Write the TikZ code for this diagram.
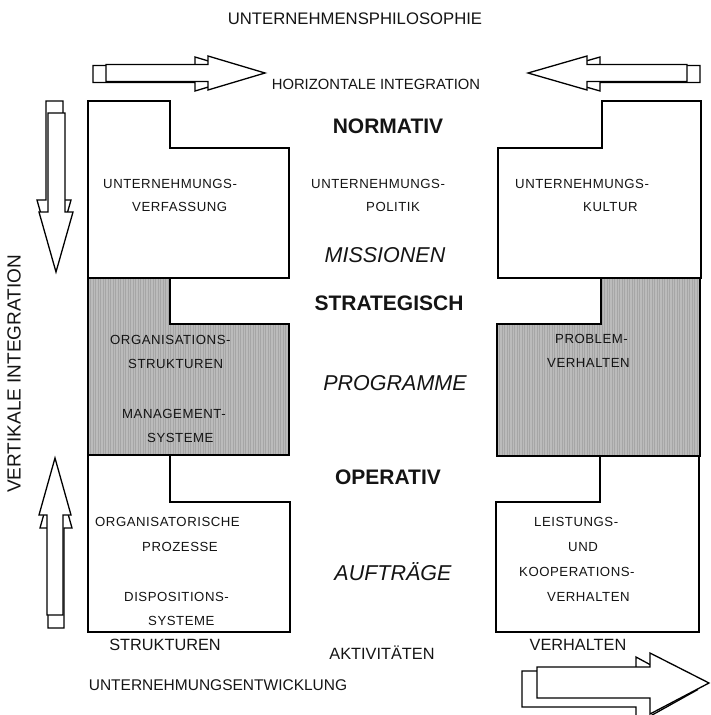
\documentclass[tikz,border=0pt]{standalone}
\usepackage{fontspec}
\setmainfont{Liberation Sans}
\newfontfamily\spacedsans[LetterSpace=4]{Liberation Sans}
\definecolor{shadegray}{HTML}{BBBBBB}
\definecolor{stripe}{HTML}{A6A6A6}
\definecolor{txt}{HTML}{141414}
\begin{document}
\begin{tikzpicture}[x=1pt,y=-1pt,
  outline/.style={draw=black, line width=1.4pt, line join=miter},
  plainblock/.style={outline, fill=white},
  shadedblock/.style={outline, fill=shadegray},
  arrowface/.style={draw=black, line width=1.3pt, fill=white, line join=miter},
  lbl/.style={inner sep=0pt, text=txt},
  small/.style={lbl, anchor=base west, font=\spacedsans\fontsize{13.2}{15}\selectfont},
  level/.style={lbl, anchor=base, font=\fontsize{21}{25}\selectfont\bfseries},
  stage/.style={lbl, anchor=base, font=\fontsize{21.5}{25}\selectfont\itshape},
  caption/.style={lbl, anchor=base, font=\fontsize{16.3}{19}\selectfont},
  heading/.style={lbl, anchor=base, font=\fontsize{16.7}{20}\selectfont}
]
\useasboundingbox (0,0) rectangle (710,715);

% ---------- left column: structures ----------
\path[plainblock] (88,101) -- (170,101) -- (170,148) -- (289,148) -- (289,278) -- (88,278) -- cycle;
\path[shadedblock] (88,278) -- (170,278) -- (170,324) -- (289,324) -- (289,455) -- (88,455) -- cycle;
\begin{scope}
  \clip (88,278) -- (170,278) -- (170,324) -- (289,324) -- (289,455) -- (88,455) -- cycle;
  \foreach \sx in {88,90.5,...,292} \draw[stripe, line width=0.6pt] (\sx,276) -- (\sx,457);
\end{scope}
\path[outline] (88,278) -- (170,278) -- (170,324) -- (289,324) -- (289,455) -- (88,455) -- cycle;
\path[plainblock] (88,455) -- (170,455) -- (170,502) -- (290,502) -- (290,632) -- (88,632) -- cycle;

% ---------- right column: behaviour ----------
\path[plainblock] (602,101) -- (701,101) -- (701,278) -- (498,278) -- (498,148) -- (602,148) -- cycle;
\path[shadedblock] (601,278) -- (700,278) -- (700,456) -- (497,456) -- (497,324) -- (601,324) -- cycle;
\begin{scope}
  \clip (601,278) -- (700,278) -- (700,456) -- (497,456) -- (497,324) -- (601,324) -- cycle;
  \foreach \sx in {497,499.5,...,702} \draw[stripe, line width=0.6pt] (\sx,276) -- (\sx,458);
\end{scope}
\path[outline] (601,278) -- (700,278) -- (700,456) -- (497,456) -- (497,324) -- (601,324) -- cycle;
\path[plainblock] (600,456) -- (699,456) -- (699,632) -- (496,632) -- (496,502) -- (600,502) -- cycle;

% ---------- block arrows ----------
% horizontal integration, pointing right
\path[arrowface] (93,65.5) -- (195,65.5) -- (195,57) -- (252,74) -- (195,91) -- (195,82.5) -- (93,82.5) -- cycle;
\path[arrowface] (106,64.5) -- (208,64.5) -- (208,56) -- (265,73) -- (208,90) -- (208,81.5) -- (106,81.5) -- cycle;
% horizontal integration, pointing left
\path[arrowface] (541,74) -- (600,57) -- (600,65.5) -- (700,65.5) -- (700,82.5) -- (600,82.5) -- (600,91) -- cycle;
\path[arrowface] (528,73) -- (587,56) -- (587,64.5) -- (687,64.5) -- (687,81.5) -- (587,81.5) -- (587,90) -- cycle;
% vertical integration, pointing down
\path[arrowface] (46,101) -- (63,101) -- (63,200) -- (71,200) -- (54,260) -- (37,200) -- (46,200) -- cycle;
\path[arrowface] (48,113) -- (65,113) -- (65,212) -- (73,212) -- (56,272) -- (39,212) -- (48,212) -- cycle;
% vertical integration, pointing up
\path[arrowface] (56,471) -- (72,528) -- (64,528) -- (64,628) -- (48,628) -- (48,528) -- (40,528) -- cycle;
\path[arrowface] (55,458) -- (71,515) -- (63,515) -- (63,615) -- (47,615) -- (47,515) -- (39,515) -- cycle;
% development, pointing right
\path[arrowface] (522,671) -- (636,671) -- (636,657) -- (697,690) -- (636,724) -- (636,707) -- (522,707) -- cycle;
\path[arrowface] (537,667) -- (650,667) -- (650,653) -- (709,683) -- (650,714) -- (650,698) -- (537,698) -- cycle;

% ---------- headings ----------
\node[heading] (philo) at (355,24) {UNTERNEHMENSPHILOSOPHIE};
\node[lbl, anchor=base, font=\fontsize{14.8}{18}\selectfont] (horiz) at (376,89.3) {HORIZONTALE INTEGRATION};
\node[lbl, rotate=90, font=\fontsize{19}{22}\selectfont] (vert) at (14,374) {VERTIKALE INTEGRATION};

\node[level] (normativ) at (388,133) {NORMATIV};
\node[level] (strategisch) at (389,310) {STRATEGISCH};
\node[level] (operativ) at (388,484) {OPERATIV};

\node[stage] (missionen) at (385,262) {MISSIONEN};
\node[stage] (programme) at (395,390) {PROGRAMME};
\node[stage] (auftraege) at (393,580) {AUFTRÄGE};

% ---------- normative level ----------
\node[small] (n1a) at (103,188.5) {UNTERNEHMUNGS-};
\node[small] (n1b) at (132,211.5) {VERFASSUNG};
\node[small] (n2a) at (311,188.5) {UNTERNEHMUNGS-};
\node[small] (n2b) at (366,211.5) {POLITIK};
\node[small] (n3a) at (515,188.5) {UNTERNEHMUNGS-};
\node[small] (n3b) at (583,211.5) {KULTUR};

% ---------- strategic level ----------
\node[small] (s1a) at (110,344) {ORGANISATIONS-};
\node[small] (s1b) at (128,368) {STRUKTUREN};
\node[small] (s1c) at (122,418.5) {MANAGEMENT-};
\node[small] (s1d) at (147,442.5) {SYSTEME};
\node[small] (s3a) at (555,343) {PROBLEM-};
\node[small] (s3b) at (547,367) {VERHALTEN};

% ---------- operative level ----------
\node[small] (o1a) at (95,526.5) {ORGANISATORISCHE};
\node[small] (o1b) at (142,551.5) {PROZESSE};
\node[small] (o1c) at (124,601.5) {DISPOSITIONS-};
\node[small] (o1d) at (148,625) {SYSTEME};
\node[small] (o3a) at (534,526.5) {LEISTUNGS-};
\node[small] (o3b) at (568,551.5) {UND};
\node[small] (o3c) at (519,576.5) {KOOPERATIONS-};
\node[small] (o3d) at (547,601.5) {VERHALTEN};

% ---------- column captions ----------
\node[caption] (strukturen) at (165,650.5) {STRUKTUREN};
\node[caption] (aktivitaeten) at (382,659.5) {AKTIVITÄTEN};
\node[caption] (verhalten) at (578,650.5) {VERHALTEN};
\node[lbl, anchor=base, font=\fontsize{15.5}{18}\selectfont] (entwicklung) at (218,690.5) {UNTERNEHMUNGSENTWICKLUNG};
\end{tikzpicture}
\end{document}
